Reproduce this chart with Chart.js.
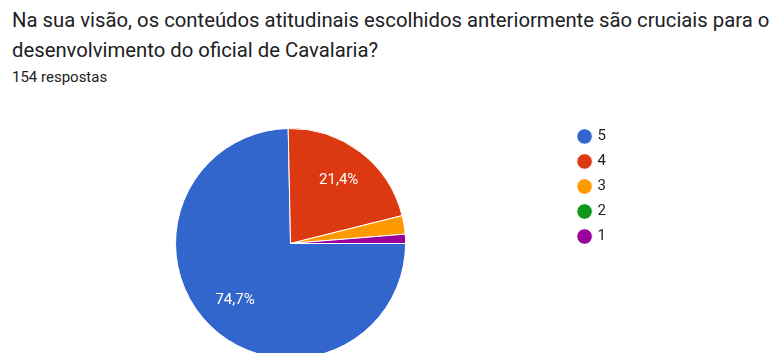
<!DOCTYPE html>
<html>
<head>
<meta charset="utf-8">
<script src="https://cdn.jsdelivr.net/npm/chart.js@4/dist/chart.umd.min.js"></script>
<style>
  html, body { margin: 0; padding: 0; background: #fff; overflow: hidden; width: 781px; height: 353px; }
  .title { position: absolute; left: 12px; top: 5px; font-family: Roboto, sans-serif; font-size: 20.3px; line-height: 30px; color: #202124; white-space: nowrap; }
  .sub { position: absolute; left: 12px; top: 68px; font-family: Roboto, sans-serif; font-size: 15px; color: #202124; }
  #wrap { position: absolute; left: 0; top: 119px; width: 781px; height: 253px; }
</style>
</head>
<body>
<div class="title">Na sua visão, os conteúdos atitudinais escolhidos anteriormente são cruciais para o<br>desenvolvimento do oficial de Cavalaria?</div>
<div class="sub">154 respostas</div>
<div id="wrap"><canvas id="myChart"></canvas></div>
<script>
var labels = ['5', '4', '3', '2', '1'];
var counts = [115, 33, 4, 0, 2];
var colors = ['#3366cc', '#dc3912', '#ff9900', '#109618', '#990099'];

// percent labels inside the big slices
var sliceLabels = {
    id: 'sliceLabels',
    afterDatasetsDraw: function (chart) {
        var ctx = chart.ctx;
        var data = chart.data.datasets[0].data;
        var total = data.reduce(function (a, b) { return a + b; }, 0);
        chart.getDatasetMeta(0).data.forEach(function (arc, i) {
            var pct = data[i] / total * 100;
            if (pct < 5) return;
            var mid = (arc.startAngle + arc.endAngle) / 2;
            var r = arc.outerRadius * 0.69;
            ctx.save();
            ctx.fillStyle = '#ffffff';
            ctx.font = '15px Roboto, sans-serif';
            ctx.textAlign = 'center';
            ctx.textBaseline = 'middle';
            ctx.fillText(pct.toFixed(1).replace('.', ',') + '%', arc.x + Math.cos(mid) * r, arc.y + Math.sin(mid) * r);
            ctx.restore();
        });
    }
};

var ctx = document.getElementById('myChart');
var myChart = new Chart(ctx, {
    type: 'pie',
    data: {
        labels: labels,
        datasets: [{
            data: counts,
            backgroundColor: colors,
            borderColor: '#ffffff',
            borderWidth: 1,
            radius: 115
        }]
    },
    options: {
        responsive: true,
        maintainAspectRatio: false,
        animation: false,
        rotation: 90,
        layout: { padding: { left: 12, right: 165, top: 0, bottom: 4 } },
        plugins: {
            tooltip: { enabled: false },
            legend: {
                position: 'right',
                align: 'start',
                labels: {
                    usePointStyle: true,
                    pointStyle: 'circle',
                    boxWidth: 11,
                    boxHeight: 11,
                    padding: 10,
                    color: '#222222',
                    font: { family: 'Roboto, sans-serif', size: 15 }
                }
            }
        }
    },
    plugins: [sliceLabels]
});
</script>
</body>
</html>
